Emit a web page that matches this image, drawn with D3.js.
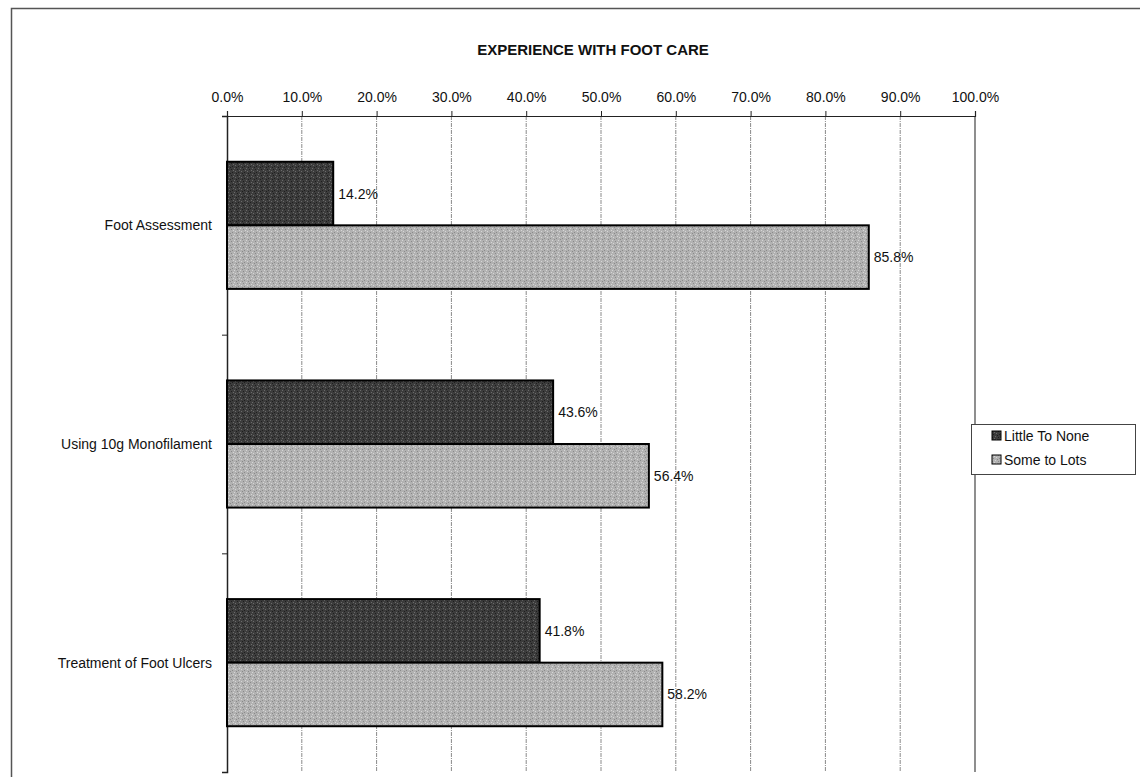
<!DOCTYPE html>
<html>
<head>
<meta charset="utf-8">
<script src="https://cdn.jsdelivr.net/npm/d3@7"></script>
<style>
  body { margin: 0; background: #fff; }
  text { font-family: "Liberation Sans", Arial, sans-serif; fill: #111; }
  .title { font-size: 15px; font-weight: bold; }
  .tick text { font-size: 14px; }
  .label { font-size: 14px; }
</style>
</head>
<body>
<svg id="chart" width="1140" height="777"></svg>
<script>
// data
let categories = ["Foot Assessment", "Using 10g Monofilament", "Treatment of Foot Ulcers"]
let series = ["Little To None", "Some to Lots"]
let littleToNone = [14.2, 43.6, 41.8]
let someToLots = [85.8, 56.4, 58.2]
let xTicks = [0, 10, 20, 30, 40, 50, 60, 70, 80, 90, 100]

let svg = d3.select("#chart")
let defs = svg.append("defs")

// speckled fills like the printed chart
function speckle(id, base, dot1, dot2) {
    let p = defs.append("pattern").attr("id", id)
        .attr("width", 6).attr("height", 6).attr("patternUnits", "userSpaceOnUse")
    p.append("rect").attr("width", 6).attr("height", 6).attr("fill", base)
    let pts = [[0,0,dot1],[3,1,dot2],[1,3,dot1],[4,4,dot2],[5,2,dot1],[2,5,dot2]]
    pts.forEach(function (d) {
        p.append("rect").attr("x", d[0]).attr("y", d[1]).attr("width", 1).attr("height", 1).attr("fill", d[2])
    })
}
speckle("darkFill", "#3c3c3c", "#6a6a6a", "#1e1e1e")
speckle("lightFill", "#b2b2b2", "#d6d6d6", "#8a8a8a")
let fills = ["url(#darkFill)", "url(#lightFill)"]

// outer chart frame
svg.append("rect").attr("x", 11.5).attr("y", 8.5).attr("width", 1140).attr("height", 800)
    .attr("fill", "none").attr("stroke", "#555").attr("stroke-width", 1.5)

let plotLeft = 227, plotRight = 975, plotTop = 116, plotBottom = 772

let xScale = d3.scaleLinear().domain([0, 100]).range([plotLeft, plotRight])
let yScale = d3.scaleBand().domain(categories).range([plotTop, plotBottom])
let inner = d3.scaleBand().domain(series).range([0, yScale.bandwidth()]).paddingOuter(0.72).paddingInner(0)

// grid
svg.append("g").selectAll("line").data(xTicks.slice(1, -1)).enter().append("line")
    .attr("x1", function (d) { return xScale(d) }).attr("x2", function (d) { return xScale(d) })
    .attr("y1", plotTop).attr("y2", plotBottom)
    .attr("stroke", "#8a8a8a").attr("stroke-width", 1).attr("stroke-dasharray", "4,1,1,1")
svg.append("line").attr("x1", xScale(100)).attr("x2", xScale(100)).attr("y1", plotTop).attr("y2", plotBottom)
    .attr("stroke", "#444").attr("stroke-width", 1.2)

// title
svg.append("text").attr("class", "title").attr("x", 593).attr("y", 55)
    .attr("text-anchor", "middle").text("EXPERIENCE WITH FOOT CARE")

// top axis
let xAxis = d3.axisTop(xScale).tickValues(xTicks).tickSize(5).tickPadding(9)
    .tickFormat(function (d) { return d.toFixed(1) + "%" })
let gx = svg.append("g").attr("transform", `translate(0,${plotTop})`).call(xAxis)
gx.select(".domain").attr("stroke", "#222").attr("stroke-width", 1.2)
gx.selectAll(".tick line").attr("stroke", "#222")
gx.selectAll(".tick text").attr("fill", "#111").style("font-family", "Liberation Sans, Arial, sans-serif")

// left axis
let yAxis = d3.axisLeft(d3.scaleLinear().domain([0, 3]).range([plotTop, plotBottom]))
    .ticks(3).tickSize(5).tickFormat("")
let gy = svg.append("g").attr("transform", `translate(${plotLeft},0)`).call(yAxis)
gy.select(".domain").attr("stroke", "#222").attr("stroke-width", 1.5)
gy.selectAll(".tick line").attr("stroke", "#222")

// category labels
svg.append("g").selectAll("text").data(categories).enter().append("text")
    .attr("class", "label")
    .attr("x", 212)
    .attr("y", function (d) { return yScale(d) + yScale.bandwidth() / 2 + 5 })
    .attr("text-anchor", "end")
    .text(function (d) { return d })

// bars
let rows = []
categories.forEach(function (c, i) {
    rows.push({ cat: c, s: series[0], v: littleToNone[i], k: 0 })
    rows.push({ cat: c, s: series[1], v: someToLots[i], k: 1 })
})

svg.append("g").selectAll("rect").data(rows).enter().append("rect")
    .attr("x", xScale(0))
    .attr("y", function (d) { return yScale(d.cat) + inner(d.s) })
    .attr("width", function (d) { return xScale(d.v) - xScale(0) })
    .attr("height", inner.bandwidth())
    .attr("fill", function (d) { return fills[d.k] })
    .attr("stroke", "#000").attr("stroke-width", 2)

svg.append("g").selectAll("text").data(rows).enter().append("text")
    .attr("class", "label")
    .attr("x", function (d) { return xScale(d.v) + 5 })
    .attr("y", function (d) { return yScale(d.cat) + inner(d.s) + inner.bandwidth() / 2 + 5 })
    .text(function (d) { return d.v.toFixed(1) + "%" })

// legend
let legend = svg.append("g").attr("transform", "translate(971,424)")
legend.append("rect").attr("x", 0.5).attr("y", 0.5).attr("width", 164).attr("height", 50)
    .attr("fill", "#fff").attr("stroke", "#444")
series.forEach(function (s, i) {
    legend.append("rect").attr("x", 21).attr("y", 7 + i * 24).attr("width", 9).attr("height", 9)
        .attr("fill", fills[i]).attr("stroke", "#000").attr("stroke-width", 1)
    legend.append("text").attr("class", "label").attr("x", 33).attr("y", 17 + i * 24).text(s)
})
</script>
</body>
</html>
